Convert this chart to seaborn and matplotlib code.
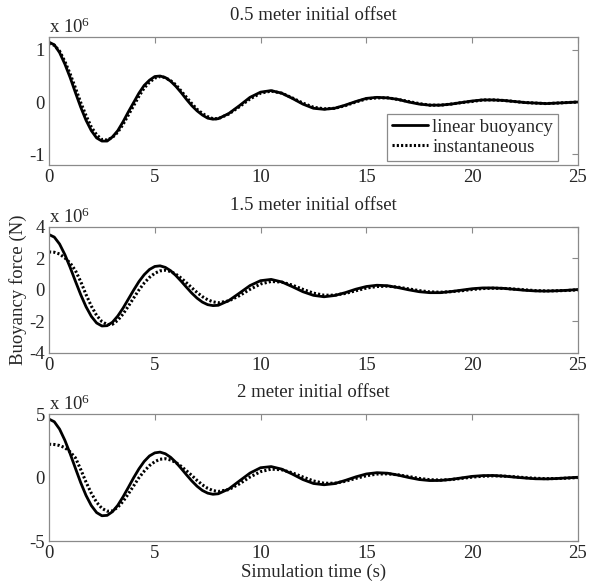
import numpy as np
import matplotlib
matplotlib.use("Agg")
import matplotlib.pyplot as plt
import seaborn as sns

# sample times (s): 0.25 s steps up to 8 s, then 0.5 s steps
t = np.r_[np.arange(0, 8.25, 0.25), np.arange(8.5, 25.5, 0.5)]

# buoyancy force, x 1e6 N
lin_05 = [1.15, 1.10, 0.95, 0.73, 0.47, 0.18, -0.10, -0.35, -0.55, -0.69, -0.75, -0.75, -0.67, -0.55, -0.38, -0.19, -0.01,
          0.17, 0.32, 0.42, 0.49, 0.50, 0.47, 0.40, 0.30, 0.18, 0.05, -0.07, -0.17, -0.25, -0.31, -0.33, -0.32,
          -0.22, -0.07, 0.09, 0.19, 0.22, 0.17, 0.07, -0.04, -0.12, -0.14, -0.12, -0.06, 0.01, 0.07, 0.09, 0.08, 0.05,
          0.00, -0.04, -0.06, -0.06, -0.04, -0.01, 0.02, 0.04, 0.04, 0.03, 0.01, -0.01, -0.02, -0.03, -0.02, -0.01, 0.00]
ins_05 = [1.13, 1.09, 0.98, 0.78, 0.54, 0.27, -0.01, -0.26, -0.48, -0.63, -0.72, -0.73, -0.68, -0.58, -0.43, -0.25, -0.07,
          0.11, 0.27, 0.38, 0.46, 0.49, 0.47, 0.41, 0.33, 0.21, 0.09, -0.03, -0.14, -0.22, -0.28, -0.32, -0.32,
          -0.23, -0.09, 0.06, 0.17, 0.21, 0.17, 0.08, -0.02, -0.10, -0.13, -0.12, -0.07, 0.00, 0.06, 0.08, 0.08, 0.05,
          0.01, -0.03, -0.06, -0.06, -0.04, -0.01, 0.01, 0.04, 0.04, 0.03, 0.01, -0.01, -0.02, -0.03, -0.02, -0.01, 0.00]

lin_15 = [3.50, 3.34, 2.90, 2.23, 1.42, 0.54, -0.31, -1.07, -1.68, -2.10, -2.29, -2.27, -2.05, -1.66, -1.16, -0.59, -0.02,
          0.52, 0.96, 1.29, 1.48, 1.52, 1.42, 1.21, 0.90, 0.54, 0.16, -0.21, -0.53, -0.78, -0.94, -1.00, -0.98,
          -0.68, -0.21, 0.27, 0.58, 0.66, 0.50, 0.20, -0.12, -0.35, -0.44, -0.36, -0.18, 0.04, 0.21, 0.29, 0.26, 0.14,
          0.00, -0.12, -0.18, -0.18, -0.11, -0.02, 0.07, 0.12, 0.12, 0.09, 0.03, -0.03, -0.07, -0.08, -0.06, -0.03, 0.02]
ins_15 = [2.40, 2.38, 2.27, 2.02, 1.70, 1.22, 0.52, -0.30, -1.03, -1.62, -2.01, -2.20, -2.18, -1.93, -1.53, -1.04, -0.52,
          -0.01, 0.43, 0.79, 1.05, 1.20, 1.24, 1.16, 0.99, 0.74, 0.44, 0.13, -0.17, -0.43, -0.63, -0.76, -0.82,
          -0.70, -0.37, 0.03, 0.37, 0.53, 0.49, 0.30, 0.03, -0.21, -0.34, -0.34, -0.23, -0.06, 0.11, 0.21, 0.23, 0.17,
          0.06, -0.05, -0.13, -0.15, -0.12, -0.06, 0.02, 0.08, 0.10, 0.09, 0.05, 0.00, -0.05, -0.07, -0.06, -0.04, 0.00]

lin_20 = [4.60, 4.39, 3.81, 2.93, 1.87, 0.72, -0.41, -1.41, -2.21, -2.76, -3.01, -2.98, -2.69, -2.19, -1.52, -0.78, -0.02,
          0.68, 1.27, 1.70, 1.94, 2.00, 1.87, 1.59, 1.19, 0.71, 0.21, -0.27, -0.69, -1.02, -1.23, -1.32, -1.28,
          -0.90, -0.27, 0.35, 0.77, 0.86, 0.66, 0.27, -0.16, -0.47, -0.57, -0.48, -0.23, 0.05, 0.28, 0.38, 0.34, 0.19,
          0.00, -0.16, -0.24, -0.23, -0.15, -0.03, 0.09, 0.15, 0.16, 0.11, 0.03, -0.04, -0.10, -0.11, -0.08, -0.03, 0.02]
ins_20 = [2.62, 2.60, 2.52, 2.35, 2.02, 1.55, 0.63, -0.36, -1.24, -1.95, -2.43, -2.65, -2.63, -2.34, -1.88, -1.29, -0.66,
          -0.02, 0.50, 0.94, 1.25, 1.44, 1.48, 1.38, 1.18, 0.88, 0.53, 0.16, -0.23, -0.58, -0.85, -1.03, -1.10,
          -0.95, -0.50, 0.04, 0.46, 0.66, 0.61, 0.37, 0.04, -0.27, -0.45, -0.45, -0.30, -0.07, 0.14, 0.27, 0.29, 0.21,
          0.08, -0.07, -0.17, -0.20, -0.16, -0.07, 0.03, 0.10, 0.13, 0.11, 0.06, -0.01, -0.06, -0.09, -0.08, -0.05, 0.00]

titles = ["0.5 meter initial offset", "1.5 meter initial offset", "2 meter initial offset"]
ylims = [(-1.21, 1.25), (-4, 4), (-5, 5)]
yticks = [[-1, 0, 1], [-4, -2, 0, 2, 4], [-5, 0, 5]]
xticks = [0, 5, 10, 15, 20, 25]

sns.set_style("white")
plt.rcParams['font.family'] = ['Liberation Serif']
plt.rcParams['mathtext.default'] = 'regular'
plt.rcParams['axes.unicode_minus'] = False
fs = 13.5

fig = plt.figure(figsize=(5.89, 5.88), dpi=100)
# axes boxes in figure fractions (left, bottom, width, height)
boxes = [(0.0832, 0.7194, 0.898, 0.2177),
         (0.0832, 0.3997, 0.898, 0.2148),
         (0.0832, 0.0799, 0.898, 0.2160)]
grey = '#8a8a8a'

series = [(lin_05, ins_05), (lin_15, ins_15), (lin_20, ins_20)]
axes = []
for i, (lin, ins) in enumerate(series):
    ax = fig.add_axes(boxes[i])
    sns.lineplot(x=t, y=lin, ax=ax, color='black', lw=2.0, label='linear buoyancy')
    sns.lineplot(x=t, y=ins, ax=ax, color='black', lw=2.2, linestyle=(0, (0.7, 0.7)), label='instantaneous')
    ax.get_legend().remove()
    ax.set_xlim(0, 25)
    ax.set_ylim(*ylims[i])
    ax.set_xticks(xticks)
    ax.set_yticks(yticks[i])
    ax.set_title(titles[i], pad=12, fontsize=fs)
    ax.tick_params(direction='in', top=True, right=True, length=4, width=0.8,
                   color=grey, labelsize=fs, pad=3)
    for s in ax.spines.values():
        s.set_color(grey)
        s.set_linewidth(0.9)
    ax.text(0.0, 1.0, r'x 10$^{6}$', transform=ax.transAxes, ha='left', va='bottom', fontsize=fs)
    ax.set_xlabel('')
    ax.set_ylabel('')
    axes.append(ax)

leg = axes[0].legend(loc='lower right', bbox_to_anchor=(0.962, 0.035), fontsize=fs,
                     fancybox=False, edgecolor=grey, framealpha=1, handlelength=1.9,
                     handletextpad=0.25, borderpad=0.25, labelspacing=0.15, borderaxespad=0)
leg.get_frame().set_linewidth(0.9)

axes[1].set_ylabel('Buoyancy force (N)', fontsize=fs)
axes[1].yaxis.set_label_coords(-0.042, 0.5)
axes[2].set_xlabel('Simulation time (s)', fontsize=fs, labelpad=1)

fig.savefig("out.png", dpi=100)
